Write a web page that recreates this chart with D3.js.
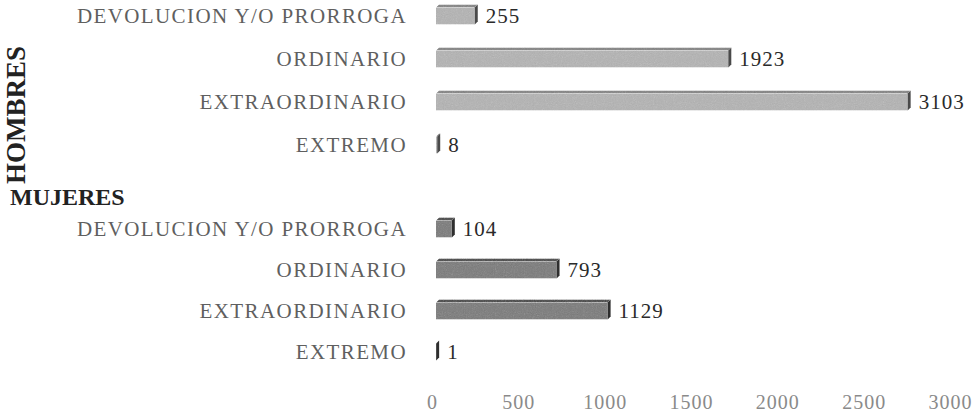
<!DOCTYPE html>
<html>
<head>
<meta charset="utf-8">
<script src="https://cdn.jsdelivr.net/npm/d3@7"></script>
<style>
  html, body { margin: 0; padding: 0; background: #fff; }
  svg { display: block; }
</style>
</head>
<body>
<svg id="chart" width="980" height="416"></svg>
<script>
// Categories (top to bottom within each group)
const categories = ["DEVOLUCION Y/O PRORROGA", "ORDINARIO", "EXTRAORDINARIO", "EXTREMO"];
const groups = ["HOMBRES", "MUJERES"];
const hombresValues = [255, 1923, 3103, 8];
const mujeresValues = [104, 793, 1129, 1];
const tickValues = [0, 500, 1000, 1500, 2000, 2500, 3000];

const svg = d3.select("#chart");
const serif = "'Liberation Serif', 'DejaVu Serif', serif";

// Front plane (axis labels) and the back plane where the bars sit (3D depth)
const xAxisScale = d3.scaleLinear().domain([0, 3000]).range([432, 950]);
const xBar = d3.scaleLinear().domain([0, 3000]).range([436, 892]);

const yH = d3.scaleBand().domain(categories).range([-5.5, 166.5]).paddingInner(0.6).paddingOuter(0.3);
const yM = d3.scaleBand().domain(categories).range([208.5, 372.5]).paddingInner(0.6).paddingOuter(0.3);

const depth = 3;
const barH = 17;

// grain filter for the bar faces
const defs = svg.append("defs");
const f = defs.append("filter").attr("id", "grain").attr("x", 0).attr("y", 0).attr("width", 1).attr("height", 1);
f.append("feTurbulence").attr("type", "fractalNoise").attr("baseFrequency", 0.9).attr("numOctaves", 2).attr("seed", 3).attr("result", "noise");
f.append("feColorMatrix").attr("in", "noise").attr("type", "saturate").attr("values", 0).attr("result", "gnoise");
f.append("feComposite").attr("in", "SourceGraphic").attr("in2", "gnoise").attr("operator", "arithmetic")
  .attr("k1", 0).attr("k2", 1).attr("k3", 0.22).attr("k4", -0.11).attr("result", "mix");
f.append("feComposite").attr("in", "mix").attr("in2", "SourceAlpha").attr("operator", "in");

function drawGroup(values, y, colors) {
  const g = svg.append("g");
  const rows = categories.map((c, i) => ({ cat: c, value: values[i] }));

  rows.forEach(d => {
    const cy = y(d.cat) + y.bandwidth() / 2;
    const x0 = xBar(0), x1 = xBar(d.value);
    const top = cy - barH / 2, bot = cy + barH / 2;

    // top face
    g.append("path")
      .attr("d", `M${x0},${top} L${x0 + depth},${top - depth} L${x1 + depth},${top - depth} L${x1},${top} Z`)
      .attr("fill", colors.top)
      .attr("filter", "url(#grain)");
    // front face
    g.append("rect")
      .attr("x", x0).attr("y", top)
      .attr("width", Math.max(0, x1 - x0)).attr("height", barH)
      .attr("fill", colors.front)
      .attr("filter", "url(#grain)");
    // side face
    g.append("path")
      .attr("d", `M${x1},${top} L${x1 + depth},${top - depth} L${x1 + depth},${bot - depth} L${x1},${bot} Z`)
      .attr("fill", colors.side);

    // category label
    g.append("text")
      .attr("x", 407).attr("y", cy)
      .attr("dy", "0.35em")
      .attr("text-anchor", "end")
      .attr("font-family", serif)
      .attr("font-size", 21)
      .attr("letter-spacing", 1.4)
      .attr("fill", "#5f5f5f")
      .text(d.cat);

    // value label
    g.append("text")
      .attr("x", x1 + depth + 8).attr("y", cy)
      .attr("dy", "0.35em")
      .attr("font-family", serif)
      .attr("font-size", 21)
      .attr("letter-spacing", 1)
      .attr("fill", "#2a2a2a")
      .text(d.value);
  });
}

drawGroup(hombresValues, yH, { front: "#bcbcbc", top: "#959595", side: "#4a4a4a" });
drawGroup(mujeresValues, yM, { front: "#8e8e8e", top: "#6a6a6a", side: "#2e2e2e" });

// Group titles
svg.append("text")
  .attr("transform", "translate(25,115) rotate(-90)")
  .attr("text-anchor", "middle")
  .attr("font-family", serif)
  .attr("font-weight", "bold")
  .attr("font-size", 27)
  .attr("fill", "#222")
  .text(groups[0]);

svg.append("text")
  .attr("x", 10).attr("y", 197)
  .attr("dy", "0.35em")
  .attr("font-family", serif)
  .attr("font-weight", "bold")
  .attr("font-size", 24)
  .attr("fill", "#222")
  .text(groups[1]);

// Value axis along the bottom
const axis = d3.axisBottom(xAxisScale).tickValues(tickValues).tickSize(0).tickPadding(0).tickFormat(d3.format("d"));
const ax = svg.append("g").attr("transform", "translate(0,395)").call(axis);
ax.select(".domain").remove();
ax.selectAll("text")
  .attr("font-family", serif)
  .attr("font-size", 20)
  .attr("letter-spacing", 1)
  .attr("fill", "#8a8a8a");
</script>
</body>
</html>
